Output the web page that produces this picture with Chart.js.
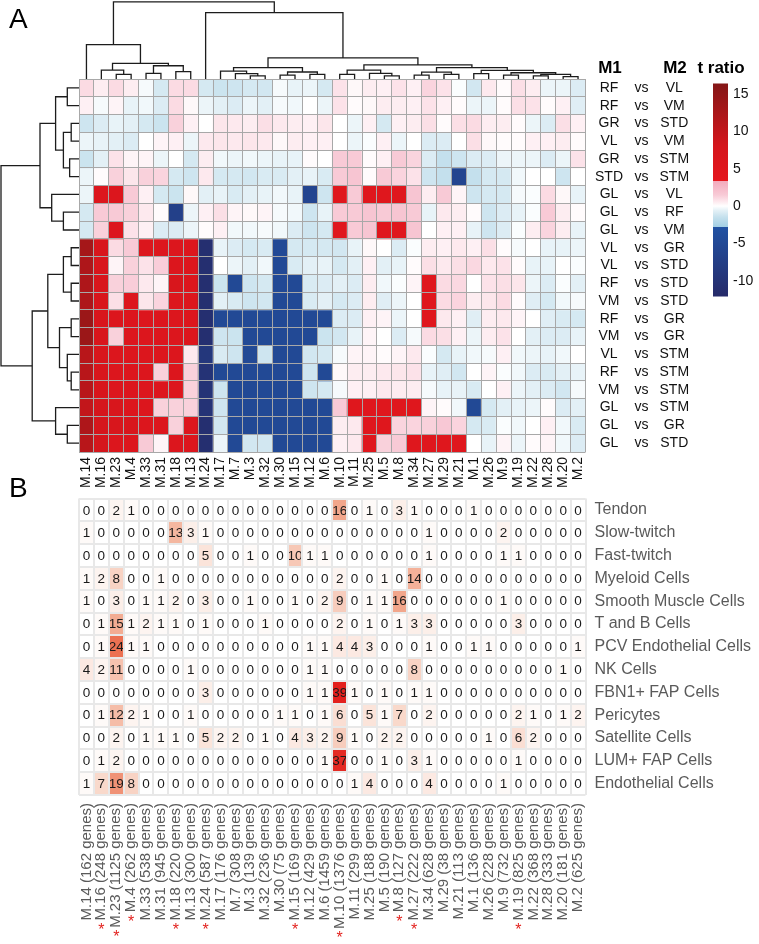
<!DOCTYPE html>
<html>
<head>
<meta charset="utf-8">
<script src="https://cdn.jsdelivr.net/npm/chart.js@4.4.1/dist/chart.umd.min.js"></script>
<style>
  html, body { margin: 0; padding: 0; background: #fff; }
  #wrap { position: relative; width: 759px; height: 944px; overflow: hidden; font-family: "Liberation Sans", Arial, sans-serif; }
  #wrap canvas { position: absolute; }
  .lbl { position: absolute; white-space: nowrap; color: #000; line-height: 1; }
  .hdr { font-weight: bold; font-size: 17px; transform: translate(-50%, -50%); }
</style>
</head>
<body>
<div id="wrap">
  <canvas id="topDendro" width="759" height="80" style="left:0;top:0"></canvas>
  <canvas id="leftDendro" width="80" height="373" style="left:0;top:79px"></canvas>
  <canvas id="topHeat" width="759" height="500" style="left:0;top:0"></canvas>
  <canvas id="legendBar" width="59" height="240" style="left:700px;top:70px"></canvas>
  <canvas id="bottomHeat" width="759" height="464" style="left:0;top:480px"></canvas>
  <div class="lbl" style="left:9px;top:5px;font-size:28px">A</div>
  <div class="lbl" style="left:9px;top:474px;font-size:28px">B</div>
  <div class="lbl hdr" style="left:610px;top:67px">M1</div>
  <div class="lbl hdr" style="left:675px;top:67px">M2</div>
  <div class="lbl hdr" style="left:721px;top:67px">t ratio</div>
</div>
<script>
// ---- panel A: module vs muscle-pair t ratios ----
const TOP_COLS = ['M.14', 'M.16', 'M.23', 'M.4', 'M.33', 'M.31', 'M.18', 'M.13', 'M.24', 'M.17', 'M.7', 'M.3',
  'M.32', 'M.30', 'M.15', 'M.12', 'M.6', 'M.10', 'M.11', 'M.25', 'M.5', 'M.8', 'M.34', 'M.27', 'M.29', 'M.21',
  'M.1', 'M.26', 'M.9', 'M.19', 'M.22', 'M.28', 'M.20', 'M.2'];
const M1 = ['RF', 'RF', 'GR', 'VL', 'GR', 'STD', 'GL', 'GL', 'GL', 'VL', 'VL', 'RF', 'VM', 'RF', 'VM', 'VL', 'RF', 'VM', 'GL', 'GL', 'GL'];
const M2 = ['VL', 'VM', 'STD', 'VM', 'STM', 'STM', 'VL', 'RF', 'VM', 'GR', 'STD', 'STD', 'STD', 'GR', 'GR', 'STM', 'STM', 'STM', 'STM', 'GR', 'STD'];
const VS = M1.map(() => 'vs');

// one row per muscle pair, one value per module
const T_RATIO = [
  [1.0, 0.5, 1.0, 0.5, -0.2, -1.0, 1.0, 1.0, -1.0, -1.3, -1.2, -1.0, -1.1, -0.2, -0.5, -0.4, -1.0, 0.8, 0.2, 0.5, 0.4, 0.8, 0.4, 1.2, 0.8, -0.1, -1.1, 0.6, 0.1, 0.9, 0.5, -0.4, -0.4, -0.8],
  [0.4, -0.2, 0.3, -0.5, -0.3, -0.8, 1.0, 0.2, -0.4, -0.6, -0.8, -0.4, -0.6, -0.2, -0.3, 0.0, -0.4, 0.8, 0.1, 0.2, 0.5, 0.5, 0.4, 0.8, 0.4, 0.1, -0.4, -0.4, 0.1, 0.9, 0.8, 0.1, 0.4, -0.7],
  [-1.2, -0.8, -0.5, -0.6, -1.0, -1.3, 1.3, 0.4, 0.0, 0.7, 0.6, 0.5, 0.9, 0.6, 0.5, 0.4, 0.7, 0.0, -0.4, 0.4, -1.0, 0.4, 0.5, 0.9, 0.1, 0.9, 1.0, 0.5, 0.5, 0.1, -0.4, -0.8, 0.9, 0.4],
  [-0.4, -0.5, -0.6, -0.8, 0.0, 0.3, 0.4, -0.4, 0.6, 0.7, 0.6, 0.7, 0.6, 0.2, 0.5, 0.4, 0.4, 0.0, -0.4, -0.1, 0.4, -0.4, 0.0, -0.8, -0.8, 0.0, 0.9, 0.2, 0.1, 0.1, 0.4, 0.4, 0.5, 0.1],
  [-1.3, -0.6, 0.8, 0.3, 0.3, -0.4, 0.0, -1.0, 0.5, -0.3, -0.4, -0.3, -0.4, -0.5, -0.5, 0.1, 0.0, 1.5, 1.5, 0.1, 0.4, 1.5, 1.2, -0.8, -1.5, -1.2, -0.8, -0.8, -0.4, -0.4, -0.4, -0.8, -0.4, 0.8],
  [-0.4, 0.1, 1.3, 0.7, 1.3, 1.2, -1.0, -1.2, 0.6, -1.0, -1.0, -1.1, -0.9, -0.9, -0.6, -0.5, -0.9, 1.5, 1.8, 0.1, 1.5, 1.2, 0.8, -1.2, -1.5, -6, -1.5, -1.0, -1.0, -0.3, 0.0, 0.0, -1.2, 0.0],
  [-0.4, 6, 6, 1.5, 0.4, -1.0, -1.3, 0.2, -0.6, -0.5, -0.9, -0.6, -0.5, -0.3, -0.5, -6, -1.2, 5, 1.5, 5, 5, 5, 1.8, 0.5, 1.5, 0.3, -1.2, -1.0, -1.0, -0.2, -0.1, 1.0, 0.2, -0.5],
  [-1.0, 1.5, 1.5, 1.3, 0.6, 0.1, -7, -0.4, 0.4, 0.9, 0.3, 0.2, 0.3, -0.2, -0.3, -1.2, -0.5, 1.5, 1.5, 1.8, 1.5, 1.8, 1.5, -0.5, 0.6, 0.5, 0.1, -1.2, -0.8, -0.5, -0.1, 1.5, 0.5, 0.1],
  [-1.0, 1.3, 6, 0.8, 0.4, -0.8, -0.8, -0.4, 0.1, 0.4, -0.3, -0.3, -0.2, -0.3, -0.8, -1.2, -1.0, 5, 1.5, 1.8, 5, 5, 1.8, 0.0, 0.4, 0.4, -0.5, -1.2, -0.8, -0.1, 0.5, 1.2, 0.5, -0.5],
  [13, 7, 1.0, 1.5, 6, 6, 6, 6, -11, -0.5, -0.8, -1.0, -0.9, -5, -1.0, -1.0, -1.0, -1.1, -0.5, 0.2, 0.0, -0.8, -0.1, 0.5, 0.4, 0.6, 0.4, 0.9, 0.1, -0.2, 0.0, -0.5, -0.5, -0.4],
  [12, 7, 0.3, 1.3, 0.8, 1.4, 6, 6, -11, 0.0, -0.4, -0.6, -0.3, -5, -0.9, -0.6, -0.5, -1.0, -0.6, 0.4, -0.6, -0.5, 0.1, 0.9, 0.6, 0.9, 1.1, 0.6, 0.8, 0.1, -0.5, -0.5, 0.0, -0.1],
  [12, 7, 1.3, 1.4, 0.6, 0.3, 7, 6, -11, -1.3, -5, -1.2, -1.0, -5, -5, -0.9, -0.8, -0.6, -0.8, 0.5, -0.3, -0.1, 0.3, 5, 1.0, 1.1, 0.0, 0.8, 0.9, 0.7, -0.4, -0.8, -0.1, -0.6],
  [12, 7, 0.9, 6, 0.7, 1.2, 6, 6, -11, -0.6, -0.9, -1.2, -1.1, -5, -5, -0.9, -0.6, -1.0, -0.8, 0.5, -0.7, -0.4, 0.0, 5, 1.0, 1.2, 0.5, 0.7, 1.0, 0.1, -0.7, -1.0, -0.3, -0.2],
  [14, 7, 6, 6, 6, 6, 6, 6, -11, -5, -5, -5, -5, -5, -5, -5, -5, -0.8, -0.8, 0.4, 0.3, -0.4, 0.0, 5, 0.6, 0.4, -0.7, 0.5, 0.6, 0.3, 0.0, -0.7, -0.9, -1.0],
  [14, 7, 1.3, 6, 6, 6, 6, 6, -11, -1.2, -1.3, -5, -5, -5, -5, -5, -1.3, -1.1, -0.5, 0.3, 0.0, -0.8, -0.2, 1.0, 0.9, 0.4, -0.4, 0.5, 0.8, 0.0, -0.6, -0.8, -0.8, -0.5],
  [11, 7, 6, 6, 6, 6, 6, 0.6, -9, -0.9, -1.2, -5, -1.2, -5, -5, -1.1, -1.0, -0.2, 0.3, 0.3, 0.1, 0.3, 0.6, -0.1, -1.0, -0.5, -0.3, -0.2, 0.4, -0.3, -0.4, -0.5, -0.3, 0.0],
  [11, 7, 6, 6, 6, 1.3, 6, 1.3, -10, -5, -5, -5, -5, -5, -5, -1.2, -5, 0.2, 0.5, 0.5, 0.6, 0.7, 0.8, -0.5, -0.7, -1.1, 0.0, 0.3, -0.1, -0.3, -0.8, -0.9, -0.6, -0.5],
  [11, 7, 6, 6, 6, 6, 6, 1.3, -10, -1.2, -5, -5, -5, -5, -5, -1.2, -1.0, -0.2, 0.4, 0.4, 0.6, 0.5, 0.5, -0.2, -0.5, -0.5, -0.9, 0.0, 0.4, -0.4, -0.6, -0.8, -1.1, -0.2],
  [10, 8, 7, 6, 6, 1.3, 1.3, 1.3, -10, -1.2, -5, -5, -5, -5, -5, -5, -5, 1.5, 5, 5, 5, 5, 5, 0.3, 0.1, -0.3, -5, -1.0, -0.6, -0.5, -0.4, 0.1, -0.8, -0.6],
  [12, 8, 7, 7, 6, 6, 1.3, 6, -11, -1.1, -5, -5, -5, -5, -5, -5, -5, 0.5, 0.6, 5, 5, 1.2, 1.2, 1.3, 1.6, 1.2, -1.0, -0.9, -0.1, -0.3, 0.0, 0.4, -0.3, -0.9],
  [11, 8, 6, 6, 1.5, 0.3, 6, 6, -11, -0.4, -5, -1.1, -1.1, -5, -5, -5, -5, 0.4, 0.6, 5, 1.3, 1.5, 5, 5, 5, 5, 0.0, -0.5, 0.3, -0.4, 0.1, 0.3, -0.3, -0.8]
];

// dendrograms: [merge height, left, right], leaves are column / row indices
const COL_TREE = [0.99,
  [0.44, 0, [0.20, [0.115, 1, [0.06, 2, 3]], [0.17, [0.073, 4, 5], [0.094, 6, 7]]]],
  [0.85, 8, [0.27,
    [0.145, [0.10, 9, [0.07, 10, [0.04, 11, 12]]], [0.09, [0.05, 13, 14], [0.06, 15, 16]]],
    [0.18,
      [0.115, [0.06, 17, 18], [0.073, 19, [0.04, 20, 21]]],
      [0.145, [0.087, [0.05, 22, 23], [0.06, 24, 25]],
        [0.11, [0.07, 26, 27], [0.08, [0.05, 28, 29], [0.06, [0.04, 30, 31], [0.03, 32, 33]]]]]]]]];
const ROW_TREE = [1.0,
  [0.5, [0.3, [0.15, 0, 1], [0.2, [0.1, 2, 3], [0.12, 4, 5]]], [0.35, 6, [0.2, 7, 8]]],
  [0.6, [0.4, [0.2, [0.1, 9, 10], [0.1, 11, 12]], [0.25, [0.1, 13, 14], [0.15, 15, [0.1, 16, 17]]]], [0.3, 18, [0.15, 19, 20]]]];

// colour scale of the t ratio (legend range and tick labels)
const LEG_MIN = -12.1;
const LEG_MAX = 16.4;
const LEG_TICKS = [15, 10, 5, 0, -5, -10];
const T_STOPS = [
  [-12.1, '#262a69'], [-2.8, '#2152a3'], [-2.79, '#a3cfe4'], [-1.5, '#c4e0ed'], [-0.6, '#e3f0f6'], [0, '#ffffff'],
  [0.6, '#fde9ee'], [1.5, '#f8cad6'], [3.29, '#f3abbd'], [3.3, '#e5171e'], [8, '#d5161c'], [16.4, '#841717']
];

// ---- panel B: overlap of module genes with cell-type markers ----
const BOTTOM_MODS = ['M.14', 'M.16', 'M.23', 'M.4', 'M.33', 'M.31', 'M.18', 'M.13', 'M.24', 'M.17', 'M.7', 'M.3',
  'M.32', 'M.30', 'M.15', 'M.12', 'M.6', 'M.10', 'M.11', 'M.25', 'M.5', 'M.8', 'M.27', 'M.34', 'M.29', 'M.21',
  'M.1', 'M.26', 'M.9', 'M.19', 'M.22', 'M.28', 'M.20', 'M.2'];
const GENE_COUNTS = [162, 248, 1125, 262, 538, 945, 220, 300, 587, 176, 308, 139, 236, 75, 169, 429, 1459, 1376,
  299, 188, 190, 127, 222, 628, 38, 113, 136, 228, 732, 825, 368, 333, 181, 625];
const STARRED = ['M.16', 'M.23', 'M.4', 'M.18', 'M.24', 'M.15', 'M.10', 'M.8', 'M.27', 'M.19'];
const CELL_TYPES = ['Tendon', 'Slow-twitch', 'Fast-twitch', 'Myeloid Cells', 'Smooth Muscle Cells', 'T and B Cells',
  'PCV Endothelial Cells', 'NK Cells', 'FBN1+ FAP Cells', 'Pericytes', 'Satellite Cells', 'LUM+ FAP Cells', 'Endothelial Cells'];
const OVERLAP = [
  [0, 0, 2, 1, 0, 0, 0, 0, 0, 0, 0, 0, 0, 0, 0, 0, 0, 16, 0, 1, 0, 3, 1, 0, 0, 0, 1, 0, 0, 0, 0, 0, 0, 0],
  [1, 0, 0, 0, 0, 0, 13, 3, 1, 0, 0, 0, 0, 0, 0, 0, 0, 0, 0, 0, 0, 0, 0, 1, 0, 0, 0, 0, 2, 0, 0, 0, 0, 0],
  [0, 0, 0, 0, 0, 0, 0, 0, 5, 0, 0, 1, 0, 0, 10, 1, 1, 0, 0, 0, 0, 0, 0, 1, 0, 0, 0, 0, 1, 1, 0, 0, 0, 0],
  [1, 2, 8, 0, 0, 1, 0, 0, 0, 0, 0, 0, 0, 0, 0, 0, 0, 2, 0, 0, 1, 0, 14, 0, 0, 0, 0, 0, 0, 0, 0, 0, 0, 0],
  [1, 0, 3, 0, 1, 1, 2, 0, 3, 0, 0, 1, 0, 0, 1, 0, 2, 9, 0, 1, 1, 16, 0, 0, 0, 0, 0, 0, 1, 0, 0, 0, 0, 0],
  [0, 1, 15, 1, 2, 1, 1, 0, 1, 0, 0, 0, 1, 0, 0, 0, 0, 2, 0, 1, 0, 1, 3, 3, 0, 0, 0, 0, 0, 3, 0, 0, 0, 0],
  [0, 1, 24, 1, 1, 0, 0, 0, 0, 0, 0, 0, 0, 0, 0, 1, 1, 4, 4, 3, 0, 0, 0, 1, 0, 0, 1, 1, 0, 0, 0, 0, 0, 1],
  [4, 2, 11, 0, 0, 0, 0, 1, 0, 0, 0, 0, 0, 0, 0, 1, 1, 0, 0, 0, 0, 0, 8, 0, 0, 0, 0, 0, 0, 0, 0, 0, 1, 0],
  [0, 0, 0, 0, 0, 0, 0, 0, 3, 0, 0, 0, 0, 0, 0, 1, 1, 39, 1, 0, 1, 0, 1, 1, 0, 0, 0, 0, 0, 0, 0, 0, 0, 0],
  [0, 1, 12, 2, 1, 0, 0, 1, 0, 0, 0, 0, 0, 1, 1, 0, 1, 6, 0, 5, 1, 7, 0, 2, 0, 0, 0, 0, 0, 2, 1, 0, 1, 2],
  [0, 0, 2, 0, 1, 1, 1, 0, 5, 2, 2, 0, 1, 0, 4, 3, 2, 9, 1, 0, 2, 2, 0, 0, 0, 0, 0, 1, 0, 6, 2, 0, 0, 0],
  [0, 1, 2, 0, 0, 0, 0, 0, 0, 0, 0, 0, 0, 0, 0, 0, 1, 37, 0, 0, 1, 0, 3, 1, 0, 0, 0, 0, 0, 1, 0, 0, 0, 0],
  [1, 7, 19, 8, 0, 0, 0, 0, 0, 0, 0, 0, 0, 0, 0, 0, 0, 0, 1, 4, 0, 0, 0, 4, 0, 0, 0, 0, 1, 0, 0, 0, 0, 0]
];
const C_STOPS = [[0, '#ffffff'], [8, '#f8d3c4'], [16, '#f2a68b'], [24, '#ec7152'], [39, '#e3201d']];

Chart.defaults.font.family = '"Liberation Sans", Arial, sans-serif';
Chart.defaults.animation = false;
Chart.defaults.plugins.legend.display = false;
Chart.defaults.plugins.tooltip.enabled = false;

function hexToRgb(h) {
  const n = parseInt(h.slice(1), 16);
  return [(n >> 16) & 255, (n >> 8) & 255, n & 255];
}

function scaleColor(stops, v) {
  if (v <= stops[0][0]) return stops[0][1];
  for (let i = 1; i < stops.length; i++) {
    if (v <= stops[i][0]) {
      const t = (v - stops[i - 1][0]) / (stops[i][0] - stops[i - 1][0]);
      const a = hexToRgb(stops[i - 1][1]);
      const b = hexToRgb(stops[i][1]);
      return 'rgb(' + a.map((x, k) => Math.round(x + (b[k] - x) * t)).join(',') + ')';
    }
  }
  return stops[stops.length - 1][1];
}

function treeSegments(node, out) {
  if (typeof node === 'number') return { pos: node, h: 0 };
  const a = treeSegments(node[1], out);
  const b = treeSegments(node[2], out);
  out.push([[a.pos, a.h], [a.pos, node[0]], [b.pos, node[0]], [b.pos, b.h]]);
  return { pos: (a.pos + b.pos) / 2, h: node[0] };
}

function lineDatasets(segs, toPoint) {
  return segs.map((s) => ({
    data: s.map(toPoint),
    showLine: true,
    borderColor: '#1c1c1c',
    borderWidth: 1.3,
    pointRadius: 0,
    borderJoinStyle: 'miter',
    clip: false,
  }));
}

const HEAT_LEFT = 79;
const HEAT_RIGHT_GAP = 173.5;

// column dendrogram
const colSegs = [];
treeSegments(COL_TREE, colSegs);
new Chart(document.getElementById('topDendro'), {
  type: 'scatter',
  data: { datasets: lineDatasets(colSegs, ([p, h]) => ({ x: p, y: h })) },
  options: {
    responsive: false,
    events: [],
    layout: { padding: { left: HEAT_LEFT, right: HEAT_RIGHT_GAP, top: 1, bottom: 1 } },
    scales: {
      x: { type: 'linear', min: -0.5, max: TOP_COLS.length - 0.5, display: false },
      y: { type: 'linear', min: 0, max: 1, display: false },
    },
  },
});

// row dendrogram
const rowSegs = [];
treeSegments(ROW_TREE, rowSegs);
new Chart(document.getElementById('leftDendro'), {
  type: 'scatter',
  data: { datasets: lineDatasets(rowSegs, ([p, h]) => ({ x: h, y: p })) },
  options: {
    responsive: false,
    events: [],
    layout: { padding: { left: 1, right: 1, top: 0, bottom: 0 } },
    scales: {
      x: { type: 'linear', min: 0, max: 1, reverse: true, display: false },
      y: { type: 'linear', min: -0.5, max: M1.length - 0.5, reverse: true, display: false },
    },
  },
});

function rowAxis(labels, width, padding, align, color, size) {
  return {
    type: 'category',
    labels: labels,
    position: 'right',
    offset: true,
    grid: { display: false, drawTicks: false },
    border: { display: false },
    ticks: { crossAlign: align, padding: padding, color: color, font: { size: size }, autoSkip: false },
    afterFit: (s) => { s.width = width; },
  };
}

function cellGridAxis(nRows, color, lineWidth) {
  return {
    type: 'linear',
    position: 'left',
    stacked: true,
    min: 0,
    max: nRows,
    reverse: true,
    ticks: { display: false },
    afterBuildTicks: (s) => { s.ticks = Array.from({ length: nRows + 1 }, (_, i) => ({ value: i })); },
    grid: { color: color, lineWidth: lineWidth, drawTicks: false, z: 1 },
    border: { display: false },
    afterFit: (s) => { s.width = 0; },
  };
}

// panel A heatmap
new Chart(document.getElementById('topHeat'), {
  type: 'bar',
  data: {
    labels: TOP_COLS,
    datasets: T_RATIO.map((row) => ({
      data: row.map(() => 1),
      backgroundColor: row.map((v) => scaleColor(T_STOPS, v)),
      borderWidth: 0,
      barPercentage: 1,
      categoryPercentage: 1,
      yAxisID: 'y',
    })),
  },
  options: {
    responsive: false,
    events: [],
    layout: { padding: { left: HEAT_LEFT, top: 79, right: 0, bottom: 0 } },
    scales: {
      y: cellGridAxis(M1.length, '#a8a8a8', 1),
      x: {
        stacked: true,
        grid: { offset: true, color: '#a8a8a8', lineWidth: 1, drawTicks: false, z: 1 },
        border: { display: false },
        ticks: { minRotation: 90, maxRotation: 90, autoSkip: false, padding: 5, color: '#111', font: { size: 14 } },
        afterFit: (s) => { s.height = 48; },
      },
      yM1: rowAxis(M1, 40, 9.5, 'center', '#111', 14),
      yVS: rowAxis(VS, 30, 9, 'center', '#111', 14),
      yM2: rowAxis(M2, 103.5, 4, 'center', '#111', 14),
    },
  },
});

// colour bar legend
new Chart(document.getElementById('legendBar'), {
  type: 'bar',
  data: {
    labels: ['t ratio'],
    datasets: [{
      data: [[LEG_MIN, LEG_MAX]],
      barPercentage: 1,
      categoryPercentage: 1,
      borderWidth: 0,
      backgroundColor: (c) => {
        const ch = c.chart;
        if (!ch.chartArea) return '#ffffff';
        const y = ch.scales.y;
        const g = ch.ctx.createLinearGradient(0, y.getPixelForValue(LEG_MIN), 0, y.getPixelForValue(LEG_MAX));
        T_STOPS.forEach(([v, col]) => {
          g.addColorStop(Math.min(1, Math.max(0, (v - LEG_MIN) / (LEG_MAX - LEG_MIN))), col);
        });
        return g;
      },
    }],
  },
  options: {
    responsive: false,
    events: [],
    layout: { padding: { left: 13, top: 8, bottom: 11, right: 0 } },
    scales: {
      x: { display: false },
      y: {
        position: 'right',
        min: LEG_MIN,
        max: LEG_MAX,
        grid: { display: false, drawTicks: false },
        border: { display: false },
        ticks: { padding: 5, color: '#111', font: { size: 14 } },
        afterBuildTicks: (s) => { s.ticks = LEG_TICKS.map((v) => ({ value: v })); },
        afterFit: (s) => { s.width = 31; },
      },
    },
  },
});

// panel B heatmap with counts and starred modules
const cellNumbers = {
  id: 'cellNumbers',
  afterDatasetsDraw(chart) {
    const ctx = chart.ctx;
    ctx.save();
    ctx.font = '13.5px "Liberation Sans", Arial, sans-serif';
    ctx.fillStyle = '#1a1a1a';
    ctx.textAlign = 'center';
    ctx.textBaseline = 'middle';
    OVERLAP.forEach((row, i) => {
      chart.getDatasetMeta(i).data.forEach((bar, j) => {
        const p = bar.getCenterPoint();
        ctx.fillText(String(row[j]), p.x, p.y + 0.5);
      });
    });
    ctx.restore();
  },
};

const starMarks = {
  id: 'starMarks',
  afterDraw(chart) {
    const xs = chart.scales.x;
    const ctx = chart.ctx;
    ctx.save();
    BOTTOM_MODS.forEach((m, i) => {
      if (!STARRED.includes(m)) return;
      ctx.font = '15px "Liberation Sans", Arial, sans-serif';
      const w = ctx.measureText(xs.getLabels()[i]).width;
      ctx.font = '16px "Liberation Sans", Arial, sans-serif';
      ctx.fillStyle = '#e3231f';
      ctx.textAlign = 'center';
      ctx.textBaseline = 'middle';
      ctx.fillText('*', xs.getPixelForValue(i), xs.top + 8 + w + 10);
    });
    ctx.restore();
  },
};

new Chart(document.getElementById('bottomHeat'), {
  type: 'bar',
  data: {
    labels: BOTTOM_MODS.map((m, i) => m + ' (' + GENE_COUNTS[i] + ' genes)'),
    datasets: OVERLAP.map((row) => ({
      data: row.map(() => 1),
      backgroundColor: row.map((v) => scaleColor(C_STOPS, v)),
      borderWidth: 0,
      barPercentage: 1,
      categoryPercentage: 1,
      yAxisID: 'y',
    })),
  },
  options: {
    responsive: false,
    events: [],
    layout: { padding: { left: HEAT_LEFT, top: 14, right: 0, bottom: 0 } },
    scales: {
      y: cellGridAxis(CELL_TYPES.length, '#e8e8e8', 2),
      x: {
        stacked: true,
        grid: { offset: true, color: '#e8e8e8', lineWidth: 2, drawTicks: false, z: 1 },
        border: { display: false },
        ticks: { minRotation: 90, maxRotation: 90, autoSkip: false, padding: 8, color: '#5a5a5a', font: { size: 15 } },
        afterFit: (s) => { s.height = 149; },
      },
      yCell: rowAxis(CELL_TYPES, HEAT_RIGHT_GAP, 9, 'near', '#5a5a5a', 16),
    },
  },
  plugins: [cellNumbers, starMarks],
});
</script>
</body>
</html>
